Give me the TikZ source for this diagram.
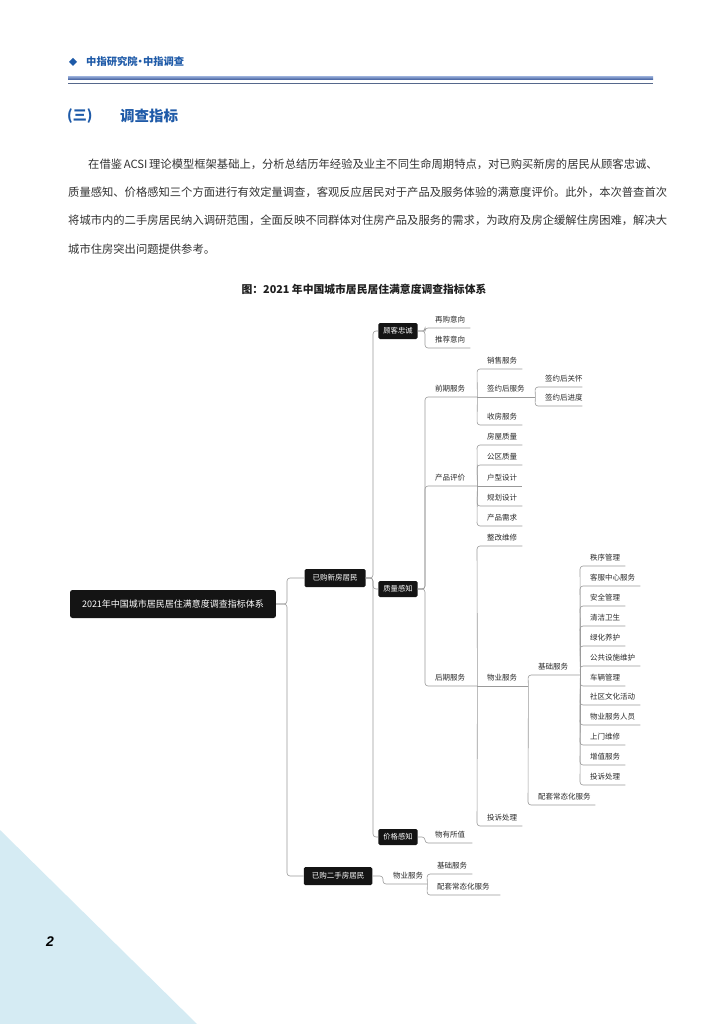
\documentclass[tikz,border=0pt]{standalone}
\usepackage{fontspec}
\setmainfont{Noto Sans CJK SC}
\newfontfamily\pnfont{Liberation Sans}
\XeTeXlinebreaklocale "zh"
\XeTeXlinebreakskip=0pt plus 2pt
\usetikzlibrary{calc}
\definecolor{hblue}{HTML}{1E5AA8}
\definecolor{ptext}{HTML}{333333}
\definecolor{ltext}{HTML}{2A2A2A}
\definecolor{lgray}{HTML}{9A9A9A}
\definecolor{tri}{HTML}{D5EBF3}
\definecolor{rulea}{HTML}{8FA6D4}
\definecolor{ruleb}{HTML}{3E5C9C}
\definecolor{rulec}{HTML}{56688C}
\tikzset{
  conn/.style={draw=lgray, line width=0.6pt, rounded corners=3pt},
  bbox/.style={fill=black!92, rounded corners=1.5pt, text=white, font=\fontsize{7.3}{8}\selectfont, inner xsep=5pt, inner ysep=0pt, minimum height=16pt},
  topbox/.style={bbox, font=\fontsize{7.5}{8}\selectfont, inner xsep=8pt, minimum height=18pt},
  rootbox/.style={bbox, font=\fontsize{9}{10}\selectfont, inner xsep=12pt, minimum height=28pt, rounded corners=2.5pt},
  leaf/.style={anchor=south west, inner xsep=0pt, inner ysep=3.5pt, text height=5.5pt, text depth=1.5pt, font=\fontsize{7.5}{8}\selectfont, text=ltext},
  para/.style={anchor=base west, inner sep=0pt, font=\fontsize{11.3}{12}\selectfont, text=ptext},
}
\newcommand\lf[2][45]{\makebox[#1pt][l]{\hspace*{10pt}#2}}
\newcommand\boxlink[2]{\draw[conn] (#1.east) -- (#1.east -| #2.south west) -- (#2.south west) -- (#2.south east);}
\newcommand\leaflink[2]{\draw[conn] (#1.south east) -- (#2.south west) -- (#2.south east);}
\newcommand\straightlink[2]{\draw[conn] (#1.south east) -- (#2.south east);}
\begin{document}
\begin{tikzpicture}[x=1pt,y=-1pt]
\useasboundingbox (0,0) rectangle (724,1024);
\fill[white] (0,0) rectangle (724,1024);
% corner triangle
\fill[tri] (0,830) -- (197,1024) -- (0,1024) -- cycle;
\node[font=\pnfont\bfseries\itshape\fontsize{14}{14}\selectfont, text=black] (pagenum) at (50,942) {2};
% header
\fill[hblue] (73,58) -- (77,62) -- (73,66) -- (69,62) -- cycle;
\node[anchor=west, inner sep=0pt, font=\bfseries\fontsize{10.3}{11}\selectfont, text=hblue] (hdr) at (86,62) {中指研究院\kern-2.5pt·\kern-2.5pt中指调查};
\shade[top color=rulea, bottom color=ruleb] (68,76.5) rectangle (653,79.8);
\draw[rulec, line width=0.8pt] (68,83.5) -- (653,83.5);
% section title
\node[anchor=west, inner sep=0pt, font=\bfseries\fontsize{14}{15}\selectfont, text=hblue] (secn) at (67,116) {(三)};
\node[anchor=west, inner sep=0pt, font=\bfseries\fontsize{14.5}{15}\selectfont, text=hblue] (sect) at (120,116) {调查指标};
% paragraph
\node[para] (p1) at (88,169) {\makebox[567pt][s]{在借鉴 ACSI 理论模型框架基础上，分析总结历年经验及业主不同生命周期特点，对已购买新房的居民从顾客忠诚、}};
\node[para] (p2) at (68,197) {\makebox[587pt][s]{质量感知、价格感知三个方面进行有效定量调查，客观反应居民对于产品及服务体验的满意度评价。此外，本次普查首次}};
\node[para] (p3) at (68,225) {\makebox[588pt][s]{将城市内的二手房居民纳入调研范围，全面反映不同群体对住房产品及服务的需求，为政府及房企缓解住房困难，解决大}};
\node[para] (p4) at (68,253) {城市住房突出问题提供参考。};
% figure title
\node[inner sep=0pt, font=\bfseries\fontsize{10.8}{12}\selectfont, text=black!88] (ftitle) at (364,289) {图：2021 年中国城市居民居住满意度调查指标体系};

% ---------- mind map ----------
\node[rootbox] (root) at (173,604) {2021年中国城市居民居住满意度调查指标体系};
\node[topbox] (nb) at (335,578) {已购新房居民};
\node[topbox] (es) at (338,876) {已购二手房居民};
\coordinate (J0) at (287,604);
\draw[conn] (root.east) -- (J0) |- (nb.west);
\draw[conn] (root.east) -- (J0) |- (es.west);

\node[bbox] (gk) at (398,331) {顾客忠诚};
\node[bbox] (zl) at (398,589) {质量感知};
\node[bbox] (jg) at (398,837) {价格感知};
\coordinate (J1) at (373,578);
\draw[conn] (nb.east) -- (J1) |- (gk.west);
\draw[conn] (nb.east) -- (J1) |- (zl.west);
\draw[conn] (nb.east) -- (J1) |- (jg.west);

% customer loyalty
\node[leaf] (zg) at (425,328) {\lf{再购意向}};
\node[leaf] (tj) at (425,348) {\lf{推荐意向}};
\boxlink{gk}{zg}
\boxlink{gk}{tj}

% quality perception
\node[leaf] (qq) at (425,397) {\lf[52]{前期服务}};
\node[leaf] (cp) at (425,486) {\lf[52]{产品评价}};
\node[leaf] (hq) at (425,686) {\lf[52]{后期服务}};
\boxlink{zl}{qq}
\boxlink{zl}{cp}
\boxlink{zl}{hq}

\node[leaf] (xs) at (477,369) {\lf{销售服务}};
\node[leaf] (qy) at (477,397) {\lf[58]{签约后服务}};
\node[leaf] (sf) at (477,425) {\lf{收房服务}};
\leaflink{qq}{xs}
\straightlink{qq}{qy}
\leaflink{qq}{sf}

\node[leaf] (qa) at (535,387) {\lf[47]{签约后关怀}};
\node[leaf] (qb) at (535,406) {\lf[47]{签约后进度}};
\leaflink{qy}{qa}
\leaflink{qy}{qb}

\node[leaf] (c1) at (477,445) {\lf{房屋质量}};
\node[leaf] (c2) at (477,465) {\lf{公区质量}};
\node[leaf] (c3) at (477,486) {\lf{户型设计}};
\node[leaf] (c4) at (477,506) {\lf{规划设计}};
\node[leaf] (c5) at (477,526) {\lf{产品需求}};
\leaflink{cp}{c1}
\leaflink{cp}{c2}
\straightlink{cp}{c3}
\leaflink{cp}{c4}
\leaflink{cp}{c5}

\node[leaf] (zx) at (477,546) {\lf{整改维修}};
\node[leaf] (wy) at (477,686) {\lf[51]{物业服务}};
\node[leaf] (ts) at (477,826) {\lf{投诉处理}};
\leaflink{hq}{zx}
\straightlink{hq}{wy}
\leaflink{hq}{ts}

\node[leaf] (jc) at (528,675) {\lf[52]{基础服务}};
\node[leaf] (pt) at (528,805) {\lf[67]{配套常态化服务}};
\leaflink{wy}{jc}
\leaflink{wy}{pt}

\node[leaf] (b1) at (580,566) {\lf{秩序管理}};
\node[leaf] (b2) at (580,586) {\lf[60]{客服中心服务}};
\node[leaf] (b3) at (580,606) {\lf{安全管理}};
\node[leaf] (b4) at (580,626) {\lf{清洁卫生}};
\node[leaf] (b5) at (580,646) {\lf{绿化养护}};
\node[leaf] (b6) at (580,666) {\lf[60]{公共设施维护}};
\node[leaf] (b7) at (580,686) {\lf{车辆管理}};
\node[leaf] (b8) at (580,705) {\lf[60]{社区文化活动}};
\node[leaf] (b9) at (580,725) {\lf[60]{物业服务人员}};
\node[leaf] (b10) at (580,745) {\lf{上门维修}};
\node[leaf] (b11) at (580,765) {\lf{增值服务}};
\node[leaf] (b12) at (580,785) {\lf{投诉处理}};
\foreach \b in {b1,b2,b3,b4,b5,b6,b7,b8,b9,b10,b11,b12}{\leaflink{jc}{\b}}

% price perception
\node[leaf] (wz) at (425,843) {\lf[47]{物有所值}};
\boxlink{jg}{wz}

% second-hand residents
\node[leaf] (wy2) at (383,884) {\lf[44]{物业服务}};
\boxlink{es}{wy2}
\node[leaf] (jc2) at (427,874) {\lf{基础服务}};
\node[leaf] (pt2) at (427,895) {\lf[73]{配套常态化服务}};
\leaflink{wy2}{jc2}
\leaflink{wy2}{pt2}
\end{tikzpicture}
\end{document}
